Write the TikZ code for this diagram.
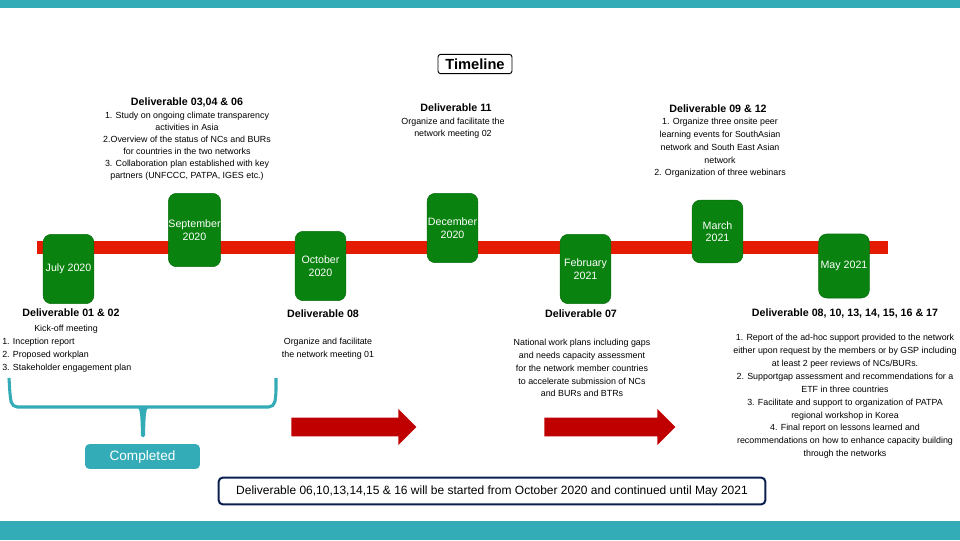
\documentclass[tikz,border=0pt]{standalone}
\usepackage{fontspec}
\setmainfont{Liberation Sans}
\usepackage{tikz}
\usetikzlibrary{positioning}
\usetikzlibrary{shapes.arrows}
\definecolor{tealbar}{HTML}{33ACB7}
\definecolor{monthgreen}{HTML}{0A820F}
\definecolor{linered}{HTML}{E41B00}
\definecolor{arrowred}{HTML}{C00000}
\definecolor{notenavy}{HTML}{0B1F4F}

\begin{document}
\begin{tikzpicture}[x=0.75pt,
                    y=-0.75pt,
                    band/.style={rectangle,fill=tealbar,minimum width=720pt,inner sep=0pt,anchor=north west},
                    month/.style={rectangle,draw=monthgreen!85!black,fill=monthgreen,text=white,rounded corners=6pt,
                                  minimum width=38pt,inner sep=0pt,align=center,font=\fontsize{8}{9.4}\selectfont},
                    head/.style={inner sep=0pt,font=\fontsize{8}{9}\selectfont\bfseries},
                    body/.style={inner sep=0pt,align=center,font=\fontsize{6.65}{9.6}\selectfont},
                    next/.style={single arrow,fill=arrowred,inner xsep=0pt,inner ysep=6.75pt,
                                 single arrow head extend=6.4pt,single arrow head indent=0pt,
                                 minimum width=26pt,anchor=west},
                    ]
  \useasboundingbox (0,0) rectangle (960,540);
  \node[band,minimum height=6pt] (topband) at (0,0) {};
  \node[band,minimum height=14.25pt] (bottomband) at (0,521) {};
  \node[draw,rounded corners=2pt,line width=0.7pt,minimum width=55.5pt,minimum height=14.5pt,inner sep=0pt,
        font=\fontsize{11}{12}\selectfont\bfseries] (title) at (475,64) {Timeline};

  \fill[linered] (37,241) rectangle (888,254);

  \node[month,minimum height=52pt] (jul) at (68.5,269) {July 2020};
  \node[month,minimum height=55pt] (sep) at (194.5,230) {September\\2020};
  \node[month,minimum height=52pt] (oct) at (320.5,266) {October\\2020};
  \node[month,minimum height=52pt] (dec) at (452.5,228) {December\\2020};
  \node[month,minimum height=52pt] (feb) at (585.5,269) {February\\2021};
  \node[month,minimum height=47pt] (mar) at (717.5,231.5) {March\\2021};
  \node[month,minimum height=48pt] (may) at (844,266) {May 2021};

  \node[head] (d0102) at (71,312.5) {Deliverable 01 \& 02};
  \node[body] (kick) at (66,329) {Kick-off meeting};
  \node[body,align=left,anchor=north west] (d0102list) at (2,338) {1. Inception report\\2. Proposed workplan\\3. Stakeholder engagement plan};

  \node[head] (d030406) at (187,102.5) {Deliverable 03,04 \& 06};
  \node[body,anchor=north,font=\fontsize{6.65}{9}\selectfont] (d030406list) at (187,112) {1. Study on ongoing climate transparency\\activities in Asia\\2.Overview of the status of NCs and BURs\\for countries in the two networks\\3. Collaboration plan established with key\\partners (UNFCCC, PATPA, IGES etc.)};

  \node[head] (d08) at (323,313.5) {Deliverable 08};
  \node[body,anchor=north] (d08list) at (328,337.5) {Organize and facilitate\\the network meeting 01};

  \node[head] (d11) at (456,107.5) {Deliverable 11};
  \node[body,anchor=north] (d11list) at (453,117.5) {Organize and facilitate the\\network meeting 02};

  \node[head] (d0912) at (718,108.5) {Deliverable 09 \& 12};
  \node[body,anchor=north] (d0912list) at (720,118) {1. Organize three onsite peer\\learning events for SouthAsian\\network and South East Asian\\network\\2. Organization of three webinars};

  \node[head] (d07) at (581,313.5) {Deliverable 07};
  \node[body,anchor=north] (d07list) at (582,339) {National work plans including gaps\\and needs capacity assessment\\for the network member countries\\to accelerate submission of NCs\\and BURs and BTRs};

  \node[head] (dlast) at (845,313.5) {Deliverable 08, 10, 13, 14, 15, 16 \& 17};
  \node[body,anchor=north,font=\fontsize{6.65}{9.67}\selectfont] (dlastlist) at (845,334) {1. Report of the ad-hoc support provided to the network\\either upon request by the members or by GSP including\\at least 2 peer reviews of NCs/BURs.\\2. Supportgap assessment and recommendations for a\\ETF in three countries\\3. Facilitate and support to organization of PATPA\\regional workshop in Korea\\4. Final report on lessons learned and\\recommendations on how to enhance capacity building\\through the networks};

  % brace over the finished items
  \draw[tealbar,line width=2.3pt,rounded corners=4pt] (9,378) -- (10,395) -- (12,407) -- (274,407) -- (276,395) -- (276,378);
  \fill[tealbar,rounded corners=1pt] (135,406) .. controls (140,408) and (140.5,412) .. (141,437) -- (145,437) .. controls (145.5,412) and (146,408) .. (151,406) -- cycle;
  \node[rectangle,fill=tealbar,text=white,rounded corners=3pt,minimum width=86pt,minimum height=18.5pt,inner sep=0pt,
        font=\fontsize{10.2}{12}\selectfont] (completed) at (142.5,456.5) {Completed};

  \node[next,minimum height=93.75pt] (next1) at (291,427) {};
  \node[next,minimum height=98.25pt] (next2) at (544,427) {};

  \node[draw=notenavy,line width=1.5pt,rounded corners=3pt,minimum width=410pt,minimum height=20pt,inner sep=0pt,
        font=\fontsize{9}{11}\selectfont] (note) at (492,491) {Deliverable 06,10,13,14,15 \& 16 will be started from October 2020 and continued until May 2021};
\end{tikzpicture}
\end{document}
